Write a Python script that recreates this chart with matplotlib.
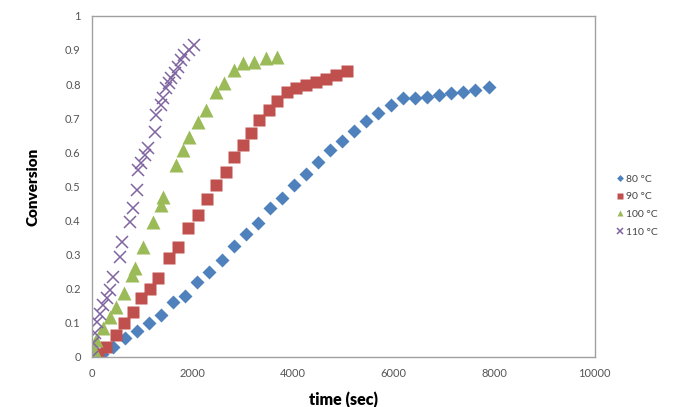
import numpy as np
import matplotlib
matplotlib.use("Agg")
import matplotlib.pyplot as plt

plt.rcParams['font.family'] = ['Lato', 'DejaVu Sans']

# conversion vs time for four temperatures
t80 = [0, 200, 420, 660, 900, 1140, 1380, 1620, 1860, 2100, 2340, 2580, 2820,
       3060, 3300, 3540, 3780, 4020, 4260, 4500, 4740, 4980, 5220, 5460, 5700,
       5940, 6180, 6420, 6660, 6900, 7140, 7380, 7620, 7900]
c80 = [0.0, 0.01, 0.03, 0.055, 0.075, 0.1, 0.123, 0.16, 0.18, 0.22, 0.25, 0.285,
       0.325, 0.36, 0.392, 0.436, 0.467, 0.504, 0.536, 0.572, 0.606, 0.633,
       0.663, 0.692, 0.714, 0.738, 0.758, 0.758, 0.763, 0.768, 0.773, 0.777,
       0.782, 0.79]

t90 = [0, 125, 290, 490, 650, 820, 985, 1150, 1310, 1545, 1710, 1905, 2105,
       2300, 2470, 2665, 2830, 3000, 3160, 3330, 3525, 3690, 3885, 4055, 4250,
       4450, 4650, 4850, 5080]
c90 = [0.0, 0.01, 0.03, 0.065, 0.10, 0.133, 0.172, 0.20, 0.23, 0.29, 0.323,
       0.377, 0.416, 0.462, 0.504, 0.543, 0.587, 0.622, 0.656, 0.695, 0.724,
       0.749, 0.778, 0.788, 0.798, 0.807, 0.815, 0.827, 0.837]

t100 = [0, 40, 90, 220, 355, 490, 650, 790, 850, 1015, 1215, 1380, 1410, 1675,
        1810, 1940, 2105, 2270, 2470, 2635, 2830, 3000, 3230, 3460, 3690]
c100 = [0.0, 0.02, 0.05, 0.084, 0.118, 0.147, 0.187, 0.24, 0.26, 0.323, 0.397,
        0.446, 0.468, 0.563, 0.607, 0.646, 0.690, 0.724, 0.778, 0.802, 0.842,
        0.861, 0.866, 0.876, 0.878]

t110 = [0, 20, 60, 110, 170, 230, 300, 360, 430, 560, 600, 760, 820, 890, 920,
        985, 1050, 1115, 1250, 1280, 1380, 1410, 1480, 1545, 1580, 1645, 1710,
        1775, 1840, 1940, 2040]
c110 = [0.0, 0.04, 0.069, 0.103, 0.127, 0.152, 0.172, 0.196, 0.235, 0.294,
        0.338, 0.397, 0.437, 0.49, 0.548, 0.568, 0.592, 0.612, 0.66, 0.71,
        0.739, 0.758, 0.788, 0.802, 0.817, 0.832, 0.851, 0.871, 0.886, 0.9,
        0.915]

labels = ['80 \u00b0C', '90 \u00b0C', '100 \u00b0C', '110 \u00b0C']

fig = plt.figure(figsize=(6.75, 4.07), dpi=100)
ax = fig.add_axes([0.136, 0.123, 0.745, 0.838])

ax.plot(t80, c80, 'D', color='#4F81BD', ms=7, mec='none', label=labels[0])
ax.plot(t90, c90, 's', color='#C0504D', ms=8.5, mec='none', label=labels[1])
ax.plot(t100, c100, '^', color='#9BBB59', ms=9.5, mec='none', label=labels[2])
ax.plot(t110, c110, 'x', color='#8064A2', ms=8.5, mew=1.1, label=labels[3])

ax.set_xlim(0, 10000)
ax.set_ylim(0, 1)
ax.set_xticks(np.arange(0, 10001, 2000))
ax.set_yticks(np.round(np.arange(0, 1.01, 0.1), 1))
ax.set_yticklabels(['0', '0.1', '0.2', '0.3', '0.4', '0.5', '0.6', '0.7',
                    '0.8', '0.9', '1'])
ax.tick_params(length=0, labelsize=8, colors='#555555', pad=8)
for s in ax.spines.values():
    s.set_color('#a0a0a0')
    s.set_linewidth(1)

ax.set_xlabel('time (sec)', fontsize=11.5, fontweight='heavy', labelpad=9)
ax.set_ylabel('Conversion', fontsize=11, fontweight='heavy', labelpad=18)

leg = fig.legend(loc='center left', bbox_to_anchor=(0.9, 0.495), frameon=False,
                 fontsize=7.5, markerscale=0.5, handlelength=0.6,
                 handletextpad=0.3, labelspacing=0.8)
for txt in leg.get_texts():
    txt.set_color('#444444')

fig.savefig('out.png', dpi=100)
